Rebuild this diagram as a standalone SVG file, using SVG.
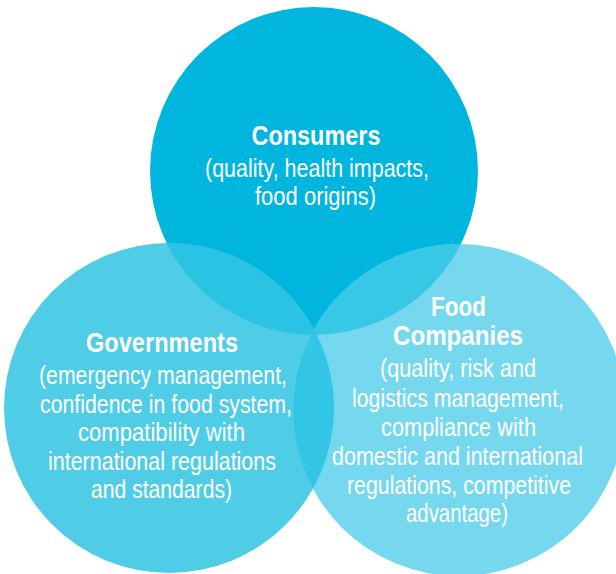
<svg xmlns="http://www.w3.org/2000/svg" width="616" height="574" viewBox="0 0 616 574">
  <style>
    .t { font-family: "Liberation Sans", Arial, sans-serif; fill: #ffffff; text-anchor: middle; }
    .h { font-size: 27.5px; font-weight: bold; }
    .b { font-size: 25px; }
  </style>
  <defs>
    <clipPath id="clipTop"><circle cx="314" cy="171" r="164"/></clipPath>
    <clipPath id="clipLeft"><circle cx="169" cy="408" r="165"/></clipPath>
    <clipPath id="clipRight"><circle cx="459" cy="410" r="166"/></clipPath>
  </defs>
  <rect width="616" height="574" fill="#ffffff"/>

  <g id="consumers">
    <circle cx="314" cy="171" r="164" fill="#00B6DE"/>
  </g>
  <g id="governments">
    <circle cx="169" cy="408" r="165" fill="#4FCDE7"/>
  </g>
  <g id="food-companies">
    <circle cx="459" cy="410" r="166" fill="#76D8EE"/>
  </g>

  <g id="overlaps">
    <g clip-path="url(#clipTop)">
      <circle cx="169" cy="408" r="165" fill="#2BC3E3"/>
      <circle cx="459" cy="410" r="166" fill="#37C8E6"/>
    </g>
    <g clip-path="url(#clipLeft)">
      <circle cx="459" cy="410" r="166" fill="#33C5E4"/>
    </g>
  </g>

  <g id="labels">
    <g id="consumers-label">
      <text class="t h" x="316" y="145" textLength="129" lengthAdjust="spacingAndGlyphs">Consumers</text>
      <text class="t b" x="317" y="177" textLength="224" lengthAdjust="spacingAndGlyphs">(quality, health impacts,</text>
      <text class="t b" x="315.5" y="205" textLength="121" lengthAdjust="spacingAndGlyphs">food origins)</text>
    </g>
    <g id="governments-label">
      <text class="t h" x="162" y="352" textLength="152" lengthAdjust="spacingAndGlyphs">Governments</text>
      <text class="t b" x="163" y="384" textLength="248" lengthAdjust="spacingAndGlyphs">(emergency management,</text>
      <text class="t b" x="166" y="412.5" textLength="252" lengthAdjust="spacingAndGlyphs">confidence in food system,</text>
      <text class="t b" x="161.5" y="441" textLength="167" lengthAdjust="spacingAndGlyphs">compatibility with</text>
      <text class="t b" x="162" y="469.5" textLength="228" lengthAdjust="spacingAndGlyphs">international regulations</text>
      <text class="t b" x="161.5" y="498" textLength="141" lengthAdjust="spacingAndGlyphs">and standards)</text>
    </g>
    <g id="food-companies-label">
      <text class="t h" x="458.5" y="316" textLength="55" lengthAdjust="spacingAndGlyphs">Food</text>
      <text class="t h" x="458" y="345" textLength="130" lengthAdjust="spacingAndGlyphs">Companies</text>
      <text class="t b" x="458" y="377" textLength="156" lengthAdjust="spacingAndGlyphs">(quality, risk and</text>
      <text class="t b" x="458" y="406.5" textLength="212" lengthAdjust="spacingAndGlyphs">logistics management,</text>
      <text class="t b" x="458.5" y="435.5" textLength="155" lengthAdjust="spacingAndGlyphs">compliance with</text>
      <text class="t b" x="457.5" y="464.5" textLength="251" lengthAdjust="spacingAndGlyphs">domestic and international</text>
      <text class="t b" x="459" y="493.5" textLength="224" lengthAdjust="spacingAndGlyphs">regulations, competitive</text>
      <text class="t b" x="457" y="522" textLength="102" lengthAdjust="spacingAndGlyphs">advantage)</text>
    </g>
  </g>
</svg>
